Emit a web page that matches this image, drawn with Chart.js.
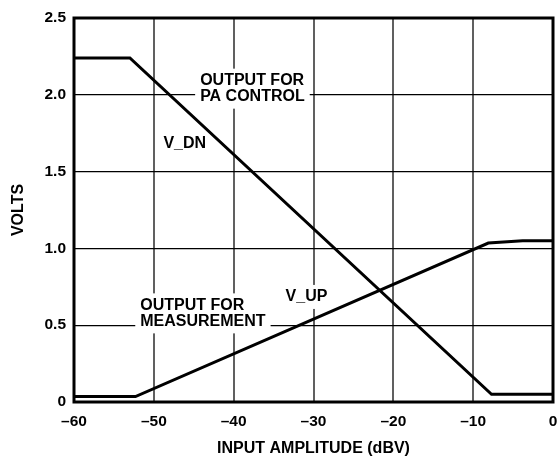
<!DOCTYPE html>
<html>
<head>
<meta charset="utf-8">
<script src="https://cdn.jsdelivr.net/npm/chart.js@4.4.0/dist/chart.umd.min.js"></script>
<style>
  html, body { margin: 0; padding: 0; background: #fff; }
</style>
</head>
<body>
<canvas id="myChart" width="557" height="458"></canvas>
<script>
// V_DN and V_UP curves
let dnX = [-60, -53, -7.7, 0];
let dnY = [2.24, 2.24, 0.05, 0.05];
let upX = [-60, -52.3, -8.1, -3.8, 0];
let upY = [0.035, 0.035, 1.035, 1.05, 1.05];

let xTicks = [-60, -50, -40, -30, -20, -10, 0];
let yTicks = [0, 0.5, 1.0, 1.5, 2.0, 2.5];
let yTickLabels = ['0', '0.5', '1.0', '1.5', '2.0', '2.5'];

// text notes inside the plot (left edge / middle, in data units)
let notes = [
  { lines: ['OUTPUT FOR', 'PA CONTROL'], x: -44.2, y: 2.04 },
  { lines: ['OUTPUT FOR', 'MEASUREMENT'], x: -51.7, y: 0.577 },
  { lines: ['V_UP'], x: -33.5, y: 0.684 },
  { lines: ['V_DN'], x: -48.8, y: 1.68 }
];

const FONT = '"Liberation Sans", Arial, sans-serif';

function toPoints(xs, ys) {
  return xs.map(function (x, i) { return { x: x, y: ys[i] }; });
}

const notesPlugin = {
  id: 'notes',
  beforeDatasetsDraw(chart) {
    const ctx = chart.ctx;
    const xs = chart.scales.x, ys = chart.scales.y;
    ctx.save();
    ctx.font = 'bold 16px ' + FONT;
    ctx.textAlign = 'left';
    ctx.textBaseline = 'middle';
    const lh = 16;
    notes.forEach(function (n) {
      const px = xs.getPixelForValue(n.x);
      const py = ys.getPixelForValue(n.y);
      let w = 0;
      n.lines.forEach(function (t) { w = Math.max(w, ctx.measureText(t).width); });
      const h = n.lines.length * lh;
      ctx.fillStyle = '#fff';
      ctx.fillRect(px - 5, py - h / 2 - 4, w + 10, h + 8);
      ctx.fillStyle = '#000';
      n.lines.forEach(function (t, i) {
        ctx.fillText(t, px, py - h / 2 + lh / 2 + i * lh);
      });
    });
    ctx.restore();
  },
  afterDatasetsDraw(chart) {
    const a = chart.chartArea;
    const ctx = chart.ctx;
    ctx.save();
    ctx.strokeStyle = '#000';
    ctx.lineWidth = 3;
    ctx.strokeRect(a.left, a.top, a.right - a.left, a.bottom - a.top);
    ctx.restore();
  }
};

const ctx1 = document.getElementById('myChart').getContext('2d');

const chart1 = new Chart(ctx1, {
  type: 'scatter',
  data: {
    datasets: [{
      label: 'V_DN',
      data: toPoints(dnX, dnY),
      showLine: true,
      borderColor: '#000',
      borderWidth: 3,
      pointRadius: 0,
      tension: 0
    }, {
      label: 'V_UP',
      data: toPoints(upX, upY),
      showLine: true,
      borderColor: '#000',
      borderWidth: 3,
      pointRadius: 0,
      tension: 0
    }]
  },
  options: {
    responsive: false,
    animation: false,
    devicePixelRatio: 1,
    layout: { padding: { top: 18, right: 4, left: 0, bottom: 0 } },
    plugins: {
      legend: { display: false },
      tooltip: { enabled: false }
    },
    scales: {
      x: {
        type: 'linear',
        min: -60,
        max: 0,
        afterBuildTicks: function (s) { s.ticks = xTicks.map(function (v) { return { value: v }; }); },
        afterFit: function (s) { s.height = 56; s.paddingLeft = 0; s.paddingRight = 0; },
        grid: { color: '#606060', lineWidth: 2, drawTicks: false },
        border: { display: false },
        ticks: {
          padding: 10,
          color: '#000',
          maxRotation: 0,
          font: { family: FONT, size: 15.5, weight: 'bold' },
          callback: function (v) { return String(v).replace('-', '\u2013'); }
        },
        title: {
          display: true,
          text: 'INPUT AMPLITUDE (dBV)',
          color: '#000',
          padding: { top: 0, bottom: 0 },
          font: { family: FONT, size: 16, weight: 'bold' }
        }
      },
      y: {
        min: 0,
        max: 2.5,
        afterBuildTicks: function (s) { s.ticks = yTicks.map(function (v) { return { value: v }; }); },
        afterFit: function (s) { s.width = 74; s.paddingTop = 0; s.paddingBottom = 0; },
        grid: { color: '#000', lineWidth: 1.3, drawTicks: false },
        border: { display: false },
        ticks: {
          padding: 8,
          color: '#000',
          font: { family: FONT, size: 15.5, weight: 'bold' },
          callback: function (v) { return yTickLabels[yTicks.indexOf(v)]; }
        },
        title: {
          display: true,
          text: 'VOLTS',
          color: '#000',
          padding: { top: 9, bottom: 0 },
          font: { family: FONT, size: 16, weight: 'bold' }
        }
      }
    }
  },
  plugins: [notesPlugin]
});
</script>
</body>
</html>
